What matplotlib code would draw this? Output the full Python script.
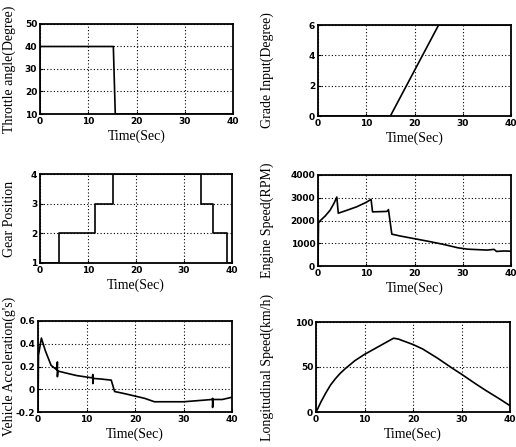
import matplotlib
matplotlib.use('Agg')
import matplotlib.pyplot as plt
from matplotlib.ticker import FuncFormatter

# --- data ---
thr_t = [0, 0, 15.2, 15.6, 40]
thr_y = [10, 40, 40, 10, 10]

grade_t = [0, 15, 25, 40]
grade_y = [0, 0, 6, 6]

gear_t = [0, 4, 4, 11.5, 11.5, 15.3, 15.3, 33.6, 33.6, 36, 36, 39, 39, 40]
gear_y = [1, 1, 2, 2, 3, 3, 4, 4, 3, 3, 2, 2, 1, 1]

eng_t = [0, 0.1, 0.5, 1.5, 2.5, 3.3, 3.9, 4.2, 6, 8, 10, 11, 11.3, 13, 14.3, 14.6, 15.3,
         17, 20, 23, 26, 29, 31, 33, 35, 36.5, 37, 38.5, 40]
eng_y = [0, 1900, 2000, 2200, 2450, 2750, 3030, 2320, 2450, 2600, 2800, 2930, 2380, 2390, 2400, 2480, 1400,
         1320, 1200, 1080, 950, 800, 740, 720, 700, 730, 640, 660, 650]

acc_t = [0, 0.1, 0.7, 1.5, 2.7, 3.9, 4, 4, 4.1, 6, 8, 11.2, 11.3, 11.3, 11.4, 13, 15.1, 15.8,
         18, 20, 22, 24, 27, 30, 33, 35.9, 36, 36, 36.1, 38, 40]
acc_y = [-0.2, 0.3, 0.45, 0.34, 0.21, 0.17, 0.24, 0.11, 0.16, 0.14, 0.12, 0.1, 0.13, 0.05, 0.095, 0.09, 0.08, -0.02,
         -0.04, -0.06, -0.08, -0.11, -0.11, -0.11, -0.1, -0.09, -0.08, -0.16, -0.09, -0.09, -0.07]

spd_t = [0, 0.3, 1, 2, 3, 4, 5, 6, 8, 10, 12, 14, 15.5, 16, 17, 18, 20, 22, 25, 28, 30, 33, 35, 38, 40]
spd_y = [0, 3, 11, 21, 30, 37, 43, 48, 57, 64, 70, 76, 80.5, 82, 81, 79, 75, 70, 60, 49, 42, 31, 24, 14, 7]

W, H = 516, 447
plt.rcParams['font.family'] = ['Liberation Serif', 'DejaVu Serif']
fig = plt.figure(figsize=(W / 100, H / 100), dpi=100)


def make_ax(x0, x1, y0, y1):
    return fig.add_axes([x0 / W, (H - y1) / H, (x1 - x0) / W, (y1 - y0) / H])


def style(ax, ylim, yticks, ylabel, lab_px, fmt=None):
    ax.set_xlim(0, 40)
    ax.set_ylim(*ylim)
    ax.set_xticks([0, 10, 20, 30, 40])
    ax.set_yticks(yticks)
    if fmt:
        ax.yaxis.set_major_formatter(FuncFormatter(fmt))
    ax.grid(True, linestyle=(0, (1, 2)), color='black', linewidth=0.8)
    ax.tick_params(direction='in', length=2, width=0.8, labelsize=6.5, pad=2)
    for lab in ax.get_xticklabels() + ax.get_yticklabels():
        lab.set_fontfamily('DejaVu Sans')
        lab.set_fontweight('bold')
    for s in ax.spines.values():
        s.set_linewidth(1.3)
    ax.set_xlabel('Time(Sec)', fontsize=10, labelpad=3)
    ax.set_ylabel(ylabel, fontsize=10)
    w = ax.get_position().width * W
    ax.yaxis.set_label_coords(-lab_px / w, 0.5)


lw = 1.2

ax1 = make_ax(40, 233, 24, 114)
ax1.plot(thr_t, thr_y, 'k', lw=lw)
style(ax1, (10, 50), [10, 20, 30, 40, 50], 'Throttle angle(Degree)', 24)

ax2 = make_ax(318, 511, 25, 116)
ax2.plot(grade_t, grade_y, 'k', lw=lw)
style(ax2, (0, 6), [0, 2, 4, 6], 'Grade Input(Degree)', 44)

ax3 = make_ax(40, 232, 174, 263)
ax3.plot(gear_t, gear_y, 'k', lw=lw)
style(ax3, (1, 4), [1, 2, 3, 4], 'Gear Position', 24)

ax4 = make_ax(318, 511, 175, 266)
ax4.plot(eng_t, eng_y, 'k', lw=lw)
style(ax4, (0, 4000), [0, 1000, 2000, 3000, 4000], 'Engine Speed(RPM)', 44)

ax5 = make_ax(38, 232, 321, 412)
ax5.plot(acc_t, acc_y, 'k', lw=lw)
style(ax5, (-0.2, 0.6), [-0.2, 0, 0.2, 0.4, 0.6], "Vehicle Acceleration(g's)", 22,
      fmt=lambda v, p: '0' if abs(v) < 1e-9 else '%.1f' % v)

ax6 = make_ax(316, 510, 322, 412)
ax6.plot(spd_t, spd_y, 'k', lw=lw)
style(ax6, (0, 100), [0, 50, 100], 'Longitudinal Speed(km/h)', 42)

fig.savefig('out.png', dpi=100)
